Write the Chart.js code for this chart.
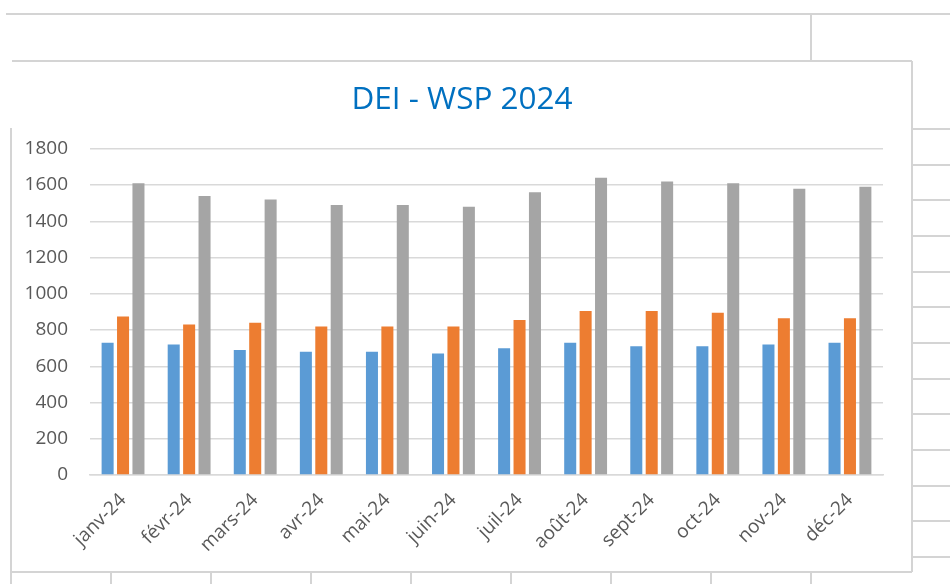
<!DOCTYPE html>
<html>
<head>
<meta charset="utf-8">
<title>DEI - WSP 2024</title>
<script src="https://cdn.jsdelivr.net/npm/chart.js@4/dist/chart.umd.min.js"></script>
<style>
  html, body { margin: 0; padding: 0; background: #fff; }
  #wrap { position: relative; width: 950px; height: 584px; }
</style>
</head>
<body>
<div id="wrap"><canvas id="barChart" width="950" height="584"></canvas></div>
<script>
// monthly counts, three series
const months = ["janv-24", "févr-24", "mars-24", "avr-24", "mai-24", "juin-24",
                "juil-24", "août-24", "sept-24", "oct-24", "nov-24", "déc-24"];
const seriesBlue   = [730, 720, 690, 680, 680, 670, 700, 730, 710, 710, 720, 730];
const seriesOrange = [875, 830, 840, 820, 820, 820, 855, 905, 905, 895, 865, 865];
const seriesGrey   = [1610, 1540, 1520, 1490, 1490, 1480, 1560, 1640, 1620, 1610, 1580, 1590];
const yTicks = [0, 200, 400, 600, 800, 1000, 1200, 1400, 1600, 1800];

const lineGrey = "#d4d4d4";

// spreadsheet cell lines and the chart frame behind the plot
const sheetBackground = {
  id: "sheetBackground",
  beforeDraw(chart) {
    const ctx = chart.ctx;
    ctx.save();
    ctx.fillStyle = "#fff";
    ctx.fillRect(0, 0, chart.width, chart.height);
    ctx.strokeStyle = lineGrey;
    ctx.lineWidth = 2;
    const seg = (x1, y1, x2, y2) => {
      ctx.beginPath();
      ctx.moveTo(x1, y1);
      ctx.lineTo(x2, y2);
      ctx.stroke();
    };
    seg(6, 14, 950, 14);
    seg(811, 14, 811, 61);
    // chart frame
    seg(12, 61, 912, 61);
    seg(912, 61, 912, 572);
    seg(11, 572, 912, 572);
    seg(11, 128, 11, 584);
    // rows to the right of the frame
    [129, 165, 200, 236, 272, 307, 343, 379, 414, 450, 486, 521, 557].forEach(y => seg(912, y, 950, y));
    // columns under the frame
    for (let x = 111; x <= 811; x += 100) seg(x, 572, x, 584);
    ctx.restore();
  }
};

const tickFont = { family: "'Open Sans', 'Noto Sans', sans-serif", size: 19 };

new Chart(document.getElementById("barChart"), {
  type: "bar",
  data: {
    labels: months,
    datasets: [
      { label: "Série 1", data: seriesBlue, backgroundColor: "#5b9bd5" },
      { label: "Série 2", data: seriesOrange, backgroundColor: "#ed7d31" },
      { label: "Série 3", data: seriesGrey, backgroundColor: "#a5a5a5" }
    ]
  },
  options: {
    responsive: false,
    animation: false,
    categoryPercentage: 0.7,
    barPercentage: 0.78,
    // padding matches the frame so the title centres on it
    layout: { padding: { left: 12, right: 38, top: 0, bottom: 0 } },
    plugins: {
      legend: { display: false },
      tooltip: { enabled: false },
      title: {
        display: true,
        text: "DEI - WSP 2024",
        color: "#0070c0",
        font: { family: "'Open Sans', sans-serif", size: 31.5, weight: "normal" },
        padding: { top: 81, bottom: 30 }
      }
    },
    scales: {
      x: {
        grid: { display: false },
        border: { display: true, color: "#d9d9d9", width: 1.5 },
        ticks: {
          color: "#595959",
          font: tickFont,
          minRotation: 45,
          maxRotation: 45,
          padding: 6
        },
        afterFit(axis) { axis.height = 109; }
      },
      y: {
        min: 0,
        max: 1800,
        afterBuildTicks(axis) { axis.ticks = yTicks.map(v => ({ value: v })); },
        grid: { color: "#d9d9d9", lineWidth: 1.5, drawTicks: false },
        border: { display: false },
        ticks: {
          color: "#595959",
          font: tickFont,
          padding: 22,
          callback: v => String(v)
        },
        afterFit(axis) { axis.width = 78; }
      },
      // empty spacer keeping the plot clear of the frame's right edge
      spacer: {
        type: "linear",
        position: "right",
        display: true,
        grid: { display: false, drawTicks: false },
        border: { display: false },
        ticks: { display: false },
        afterFit(axis) { axis.width = 29; }
      }
    }
  },
  plugins: [sheetBackground]
});
</script>
</body>
</html>
